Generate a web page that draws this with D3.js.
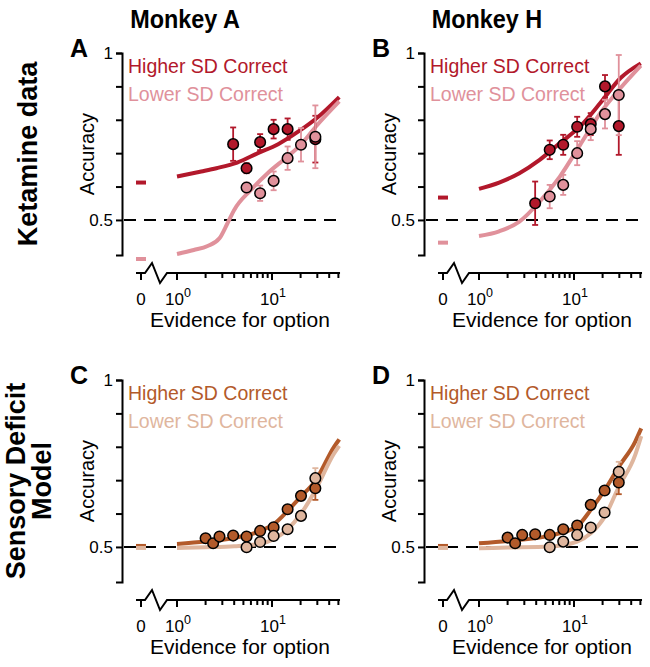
<!DOCTYPE html>
<html><head><meta charset="utf-8">
<script src="https://cdn.jsdelivr.net/npm/d3@7"></script>
<style>body{margin:0;background:#fff} text{font-family:"Liberation Sans",Arial,Helvetica,sans-serif}</style>
</head><body><svg id="c" width="650" height="667"></svg>
<script>
// ---------- text ----------
const colTitles = ["Monkey A", "Monkey H"];
const rowTitles = [["Ketamine data"], ["Sensory Deficit", "Model"]];
const panelLetters = ["A", "B", "C", "D"];
const legendLabels = ["Higher SD Correct", "Lower SD Correct"];
const yLabel = "Accuracy";
const xLabel = "Evidence for option";
const yTickValues = [0.5, 0.6, 0.7, 0.8, 0.9, 1];
const yTickText = ["0.5", "", "", "", "", "1"];
const xTickValues = [1, 2, 3, 4, 5, 6, 7, 8, 9, 10, 20, 30, 40, 50];
const xMajorTicks = [1, 10];

// ---------- Panel A (Ketamine, Monkey A) ----------
const aHiX = [3.9, 5.4, 7.5, 10.4, 14.6, 28.6];
const aHiY = [0.727, 0.655, 0.733, 0.772, 0.772, 0.742];
const aHiE = [0.05, 0.015, 0.024, 0.028, 0.032, 0.07];
const aLoX = [5.4, 7.5, 10.4, 14.6, 20.2, 28.6];
const aLoY = [0.597, 0.58, 0.617, 0.685, 0.725, 0.749];
const aLoE = [0.015, 0.023, 0.028, 0.035, 0.05, 0.094];
const aHiCurveX = [1, 1.8, 2.6, 4.3, 7.1, 11.6, 19, 31, 51];
const aHiCurveY = [0.63, 0.645, 0.655, 0.672, 0.70, 0.727, 0.765, 0.81, 0.868];
const aLoCurveX = [1, 1.5, 2.1, 2.8, 3.4, 4.0, 6.0, 9.0, 14.6, 20, 29, 51];
const aLoCurveY = [0.398, 0.41, 0.422, 0.445, 0.49, 0.53, 0.59, 0.64, 0.69, 0.725, 0.78, 0.855];
const aZero = [0.612, 0.383];

// ---------- Panel B (Ketamine, Monkey H) ----------
const bHiX = [3.9, 5.55, 7.7, 10.8, 15.0, 21.2, 29.6];
const bHiY = [0.55, 0.71, 0.725, 0.779, 0.787, 0.90, 0.781];
const bHiE = [0.065, 0.028, 0.03, 0.03, 0.033, 0.034, 0.086];
const bLoX = [5.55, 7.7, 10.8, 15.0, 21.2, 29.6];
const bLoY = [0.57, 0.605, 0.70, 0.772, 0.817, 0.874];
const bLoE = [0.035, 0.03, 0.036, 0.033, 0.043, 0.12];
const bHiCurveX = [1, 1.63, 2.66, 4.35, 7.1, 11.6, 18.9, 30.9, 50.5];
const bHiCurveY = [0.593, 0.612, 0.64, 0.68, 0.73, 0.78, 0.85, 0.925, 0.969];
const bLoCurveX = [1, 1.63, 2.66, 4.35, 7.1, 11.6, 18.9, 30.9, 50.5];
const bLoCurveY = [0.452, 0.466, 0.495, 0.555, 0.63, 0.725, 0.82, 0.895, 0.962];
const bZero = [0.567, 0.432];

// ---------- Panel C (Model, Monkey A) ----------
const cHiX = [2.0, 2.4, 2.8, 3.9, 5.4, 7.5, 10.4, 14.6, 20.2, 28.6];
const cHiY = [0.526, 0.511, 0.531, 0.534, 0.531, 0.548, 0.559, 0.613, 0.653, 0.676];
const cHiE = [0.004, 0.004, 0.004, 0.004, 0.005, 0.006, 0.008, 0.01, 0.012, 0.035];
const cLoX = [5.4, 7.5, 10.4, 14.6, 20.2, 28.6];
const cLoY = [0.499, 0.515, 0.533, 0.553, 0.593, 0.706];
const cLoE = [0.004, 0.005, 0.006, 0.008, 0.01, 0.03];
const cHiCurveX = [1, 2, 4, 7.6, 10.4, 14.6, 20, 28.6, 45, 51];
const cHiCurveY = [0.509, 0.516, 0.527, 0.548, 0.568, 0.608, 0.65, 0.698, 0.80, 0.822];
const cLoCurveX = [1, 2, 4, 7.6, 10.4, 14.6, 20, 28.6, 45, 51];
const cLoCurveY = [0.497, 0.499, 0.502, 0.51, 0.523, 0.553, 0.598, 0.67, 0.78, 0.803];
const cZero = [0.503, 0.497];

// ---------- Panel D (Model, Monkey H) ----------
const dHiX = [2.0, 2.4, 2.85, 3.9, 5.55, 7.7, 10.8, 15, 21, 29.6];
const dHiY = [0.528, 0.511, 0.536, 0.538, 0.536, 0.553, 0.564, 0.626, 0.669, 0.693];
const dHiE = [0.004, 0.004, 0.004, 0.004, 0.005, 0.006, 0.008, 0.01, 0.012, 0.035];
const dLoX = [5.55, 7.7, 10.8, 15, 21, 29.6];
const dLoY = [0.499, 0.516, 0.536, 0.558, 0.603, 0.725];
const dLoE = [0.004, 0.005, 0.006, 0.008, 0.01, 0.03];
const dHiCurveX = [1, 2, 5.55, 10.8, 15, 21, 29.6, 44, 51];
const dHiCurveY = [0.511, 0.518, 0.534, 0.562, 0.611, 0.67, 0.74, 0.815, 0.855];
const dLoCurveX = [1, 2, 5.55, 10.8, 15, 21, 29.6, 44, 51];
const dLoCurveY = [0.496, 0.498, 0.501, 0.516, 0.541, 0.59, 0.68, 0.775, 0.832];
const dZero = [0.503, 0.497];

// ---------- colours ----------
const ketColors = ["#b2182b", "#e0919b"];
const modelColors = ["#b35a2a", "#dfb69e"];

// ---------- build panels ----------
const zip = (xs, ys, es) => xs.map((x, i) => ({x, y: ys[i], e: es ? es[i] : 0}));
const panels = [
  {letter: 0, col: 0, row: 0, colors: ketColors, zero: aZero,
   hi: zip(aHiX, aHiY, aHiE), lo: zip(aLoX, aLoY, aLoE),
   hiC: zip(aHiCurveX, aHiCurveY), loC: zip(aLoCurveX, aLoCurveY)},
  {letter: 1, col: 1, row: 0, colors: ketColors, zero: bZero,
   hi: zip(bHiX, bHiY, bHiE), lo: zip(bLoX, bLoY, bLoE),
   hiC: zip(bHiCurveX, bHiCurveY), loC: zip(bLoCurveX, bLoCurveY)},
  {letter: 2, col: 0, row: 1, colors: modelColors, zero: cZero,
   hi: zip(cHiX, cHiY, cHiE), lo: zip(cLoX, cLoY, cLoE),
   hiC: zip(cHiCurveX, cHiCurveY), loC: zip(cLoCurveX, cLoCurveY)},
  {letter: 3, col: 1, row: 1, colors: modelColors, zero: dZero,
   hi: zip(dHiX, dHiY, dHiE), lo: zip(dLoX, dLoY, dLoE),
   hiC: zip(dHiCurveX, dHiCurveY), loC: zip(dLoCurveX, dLoCurveY)},
];

// layout
const colOrigin = [177, 479];     // pixel of x = 10^0
const decade = 95;
const rowTop = [53, 380];         // pixel of accuracy = 1
const rowBottom = [255, 582];     // bottom of y-axis
const yMin = 0.395, xMax = 52;

const svg = d3.select("#c");

// column titles
svg.selectAll("text.col").data(colTitles).join("text")
  .attr("class", "col")
  .attr("transform", (d, i) => `translate(${colOrigin[i] + 8},28) scale(0.9,1)`)
  .attr("text-anchor", "middle").attr("font-size", 26).attr("font-weight", "bold")
  .text(d => d);

// row titles
rowTitles.forEach((lines, r) => {
  const cy = (rowTop[r] + rowBottom[r]) / 2;
  const xs = lines.length === 1 ? [37] : [25, 51];
  lines.forEach((t, k) => {
    svg.append("text")
      .attr("transform", `translate(${xs[k]},${cy}) rotate(-90)`)
      .attr("text-anchor", "middle").attr("font-size", 27).attr("font-weight", "bold")
      .text(t);
  });
});

panels.forEach(p => {
  const ox = colOrigin[p.col];
  const xs = d3.scaleLog().domain([1, 10]).range([ox, ox + decade]);
  const ys = d3.scaleLinear().domain([yMin, 1]).range([rowBottom[p.row], rowTop[p.row]]);
  const axX = ox - 55;
  const axY = rowBottom[p.row] + 18;
  const x0 = ox - 36;
  const g = svg.append("g");

  // y axis
  const yAxis = d3.axisLeft(ys).tickValues(yTickValues).tickSize(6).tickSizeOuter(6)
    .tickFormat((d, i) => yTickText[i]);
  const ga = g.append("g").attr("transform", `translate(${axX},0)`).call(yAxis);
  ga.selectAll("path,line").attr("stroke", "#000").attr("stroke-width", 2);
  ga.selectAll("text").attr("font-size", 17).attr("font-family", "Liberation Sans, Arial, sans-serif").attr("fill", "#000");

  // y label
  g.append("text")
    .attr("transform", `translate(${axX - 28},${(rowTop[p.row] + rowBottom[p.row]) / 2}) rotate(-90)`)
    .attr("text-anchor", "middle").attr("font-size", 20).text(yLabel);

  // x axis with break
  const xEnd = xs(xMax);
  const axisPath = d3.path();
  axisPath.moveTo(x0 - 5, axY);
  axisPath.lineTo(ox - 32, axY);
  axisPath.lineTo(ox - 25, axY - 10);
  axisPath.lineTo(ox - 17, axY + 10);
  axisPath.lineTo(ox - 10, axY);
  axisPath.lineTo(xEnd, axY);
  g.append("path").attr("d", axisPath.toString()).attr("fill", "none")
    .attr("stroke", "#000").attr("stroke-width", 2).attr("stroke-linejoin", "miter");
  // zero tick
  g.append("line").attr("x1", x0).attr("x2", x0).attr("y1", axY).attr("y2", axY + 7)
    .attr("stroke", "#000").attr("stroke-width", 2);
  g.append("text").attr("x", x0).attr("y", axY + 32).attr("text-anchor", "middle")
    .attr("font-size", 17).text("0");
  // log ticks
  g.selectAll("line.xt").data(xTickValues).join("line").attr("class", "xt")
    .attr("x1", d => xs(d)).attr("x2", d => xs(d))
    .attr("y1", axY).attr("y2", d => axY + (xMajorTicks.includes(d) ? 7 : 5))
    .attr("stroke", "#000").attr("stroke-width", 2);
  const lab = g.selectAll("text.xl").data(xMajorTicks).join("text").attr("class", "xl")
    .attr("x", d => xs(d) + 1).attr("y", axY + 32).attr("text-anchor", "middle").attr("font-size", 17);
  lab.append("tspan").text("10");
  lab.append("tspan").attr("dy", -8).attr("font-size", 12.5).text(d => Math.round(Math.log10(d)));

  // x label
  g.append("text").attr("x", ox + 63).attr("y", axY + 54).attr("text-anchor", "middle")
    .attr("font-size", 21).text(xLabel);

  // panel letter
  g.append("text").attr("x", axX - 52).attr("y", rowTop[p.row] + 4)
    .attr("font-size", 25).attr("font-weight", "bold").text(panelLetters[p.letter]);

  // dashed chance line
  g.append("line").attr("x1", axX + 2).attr("x2", xEnd).attr("y1", ys(0.5)).attr("y2", ys(0.5))
    .attr("stroke", "#000").attr("stroke-width", 2).attr("stroke-dasharray", "12,8");

  // zero markers
  g.selectAll("line.zm").data(p.zero).join("line").attr("class", "zm")
    .attr("x1", x0 - 5).attr("x2", x0 + 5).attr("y1", d => ys(d)).attr("y2", d => ys(d))
    .attr("stroke", (d, i) => p.colors[i]).attr("stroke-width", 4);

  // curves
  const line = d3.line().x(d => xs(d.x)).y(d => ys(d.y)).curve(d3.curveMonotoneX);
  [p.hiC, p.loC].forEach((c, i) => {
    g.append("path").attr("d", line(c)).attr("fill", "none")
      .attr("stroke", p.colors[i]).attr("stroke-width", 4).attr("stroke-linecap", "butt");
  });

  // error bars
  [p.hi, p.lo].forEach((s, i) => {
    const eg = g.append("g").attr("stroke", p.colors[i]).attr("stroke-width", 1.8);
    s.forEach(d => {
      if (d.e <= 0.006) return;
      eg.append("line").attr("x1", xs(d.x)).attr("x2", xs(d.x)).attr("y1", ys(d.y - d.e)).attr("y2", ys(d.y + d.e));
      eg.append("line").attr("x1", xs(d.x) - 3).attr("x2", xs(d.x) + 3).attr("y1", ys(d.y - d.e)).attr("y2", ys(d.y - d.e));
      eg.append("line").attr("x1", xs(d.x) - 3).attr("x2", xs(d.x) + 3).attr("y1", ys(d.y + d.e)).attr("y2", ys(d.y + d.e));
    });
  });
  // points
  [p.hi, p.lo].forEach((s, i) => {
    g.append("g").selectAll("circle").data(s).join("circle")
      .attr("cx", d => xs(d.x)).attr("cy", d => ys(d.y)).attr("r", 5.3)
      .attr("fill", p.colors[i]).attr("stroke", "#000").attr("stroke-width", 1.5);
  });

  // legend
  legendLabels.forEach((t, i) => {
    g.append("text").attr("x", axX + 6).attr("y", rowTop[p.row] + 20 + i * 28)
      .attr("font-size", 19.5).attr("fill", p.colors[i]).text(t);
  });
});
</script></body></html>
